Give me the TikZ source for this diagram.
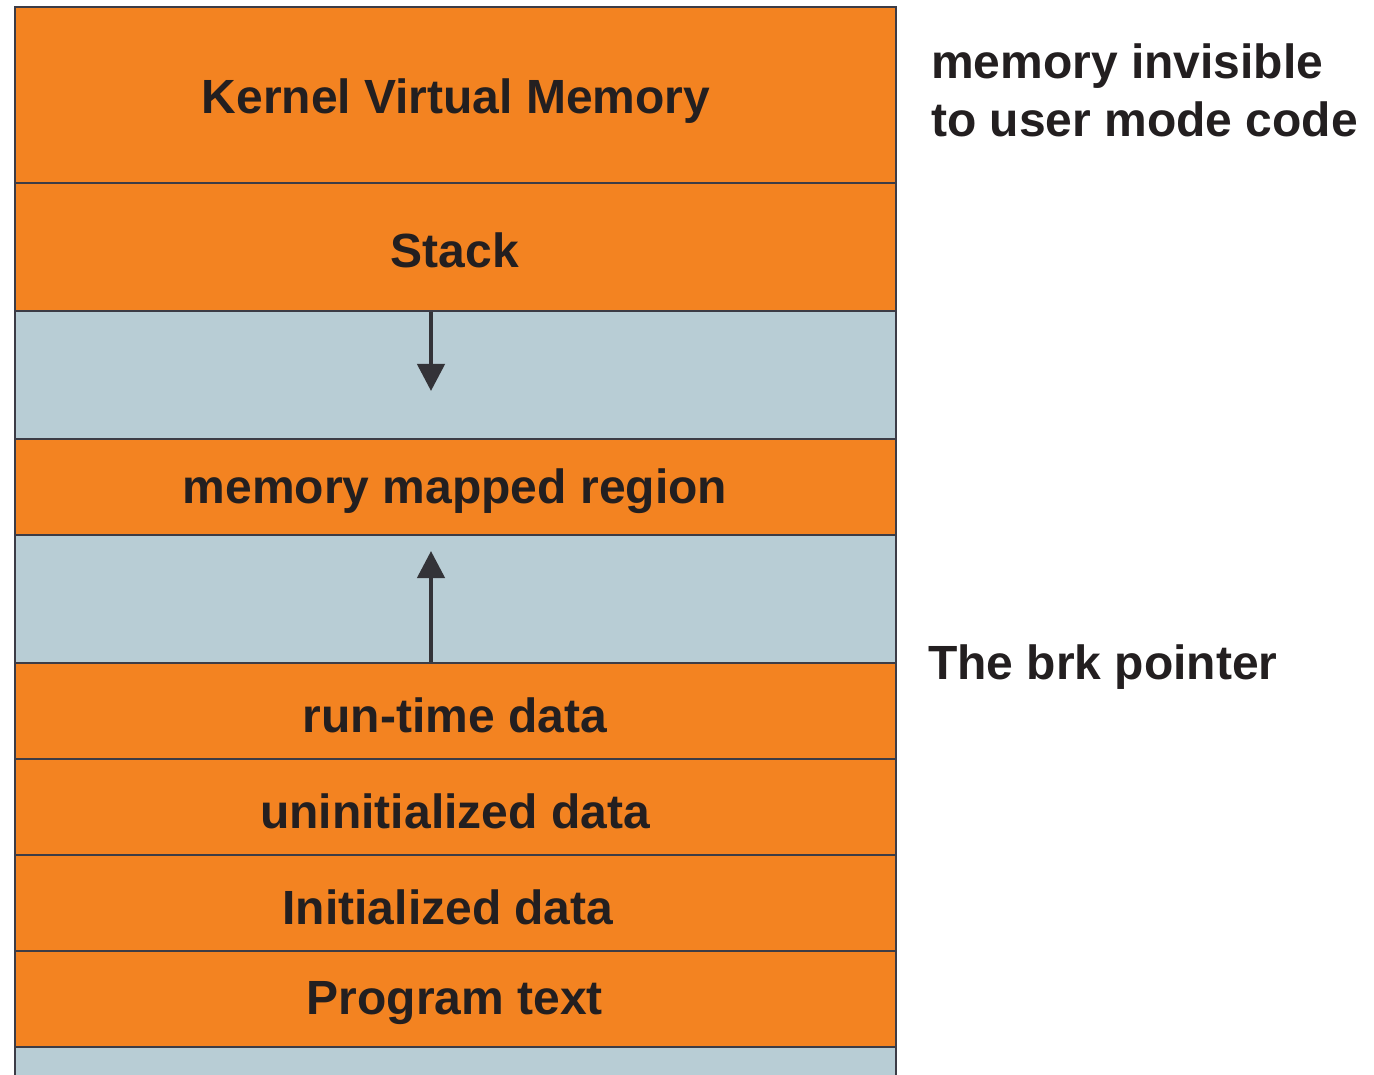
\documentclass[tikz,border=0pt]{standalone}
\usepackage{fontspec}
\setmainfont{Liberation Sans}
\usetikzlibrary{arrows.meta}
\definecolor{orng}{HTML}{F38321}
\definecolor{bgray}{HTML}{B8CDD5}
\definecolor{edge}{HTML}{3C3C46}
\definecolor{ink}{HTML}{231F20}
\definecolor{arr}{HTML}{333338}
\tikzset{
  band/.style={draw=edge, line width=2pt, minimum width=881pt, inner sep=0pt, outer sep=0pt, anchor=north west},
  orangeband/.style={band, fill=orng},
  grayband/.style={band, fill=bgray},
  bandtext/.style={font=\fontsize{48}{54}\selectfont\bfseries, text=ink},
  lbl/.style={font=\fontsize{48}{58}\selectfont\bfseries, text=ink, align=left, anchor=north west, inner sep=0pt},
  growarrow/.style={draw=arr, line width=4.5pt, -{Triangle[width=27pt,length=27pt]}}
}
\begin{document}
\begin{tikzpicture}[x=1pt,y=-1pt]
\useasboundingbox (0,0) rectangle (1374,1075);
\begin{scope}
\clip (0,0) rectangle (1374,1075);
\node[orangeband, minimum height=176pt] (kernel) at (15,7) {};
\node[orangeband, minimum height=128pt] (stack) at (15,183) {};
\node[grayband, minimum height=128pt] (gap1) at (15,311) {};
\node[orangeband, minimum height=96pt] (mmap) at (15,439) {};
\node[grayband, minimum height=128pt] (gap2) at (15,535) {};
\node[orangeband, minimum height=96pt] (heap) at (15,663) {};
\node[orangeband, minimum height=96pt] (bss) at (15,759) {};
\node[orangeband, minimum height=96pt] (data) at (15,855) {};
\node[orangeband, minimum height=96pt] (text) at (15,951) {};
\node[grayband, minimum height=60pt] (bottom) at (15,1047) {};
\end{scope}
\node[bandtext] (tk) at (456,101) {Kernel Virtual Memory};
\node[bandtext] (ts) at (455,250) {Stack};
\node[bandtext] (tm) at (455,491) {memory mapped region};
\node[bandtext] (th) at (455,715) {run-time data};
\node[bandtext] (tb) at (455,811) {uninitialized data};
\node[bandtext] (td) at (448,907) {Initialized data};
\node[bandtext] (tt) at (455,1003) {Program text};
\coordinate (dtop) at (431,312);
\coordinate (dtip) at (431,391);
\coordinate (ubot) at (431,662);
\coordinate (utip) at (431,551);
\draw[growarrow] (dtop) -- (dtip);
\draw[growarrow] (ubot) -- (utip);
\node[lbl] (inv) at (931,44) {memory invisible\\to user mode code};
\node[lbl] (brk) at (928,645) {The brk pointer};
\end{tikzpicture}
\end{document}
